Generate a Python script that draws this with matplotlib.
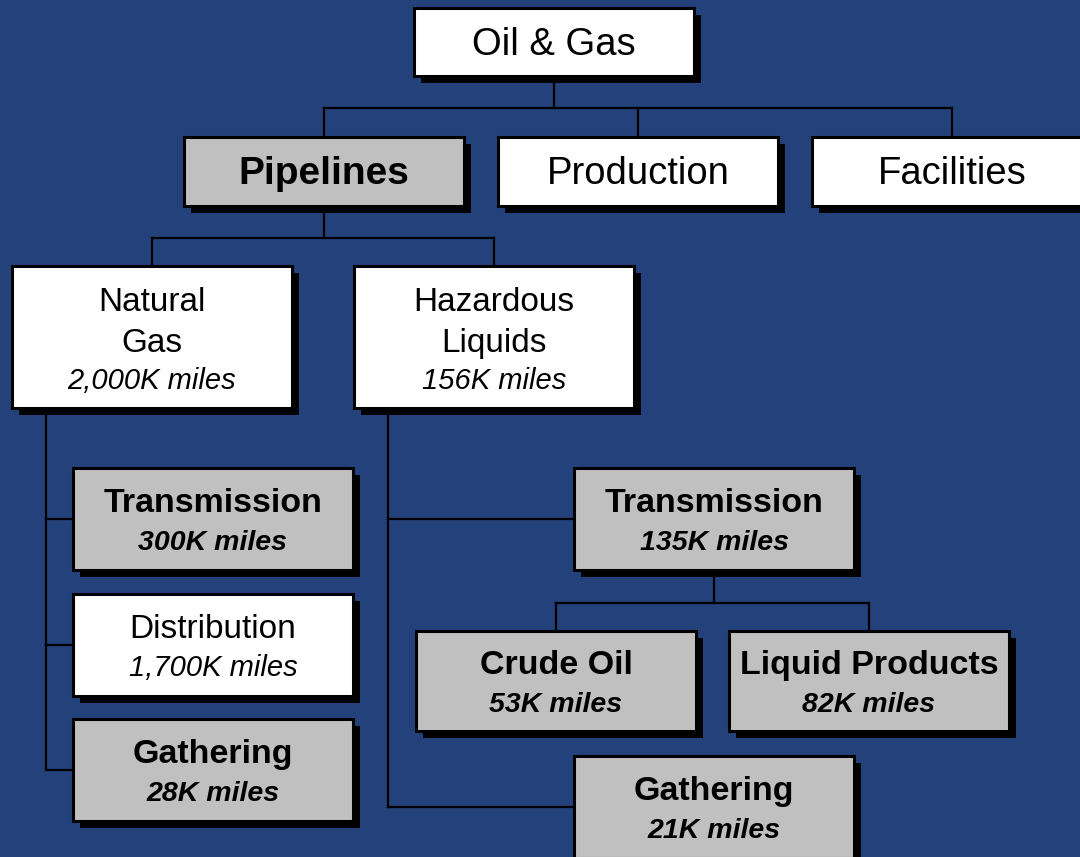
"Oil & Gas pipeline hierarchy chart"

import matplotlib
matplotlib.use("Agg")
import matplotlib.pyplot as plt
from matplotlib.patches import Rectangle

plt.rcParams["font.family"] = ["Liberation Sans", "DejaVu Sans"]

# Data
node_ids   = ["oil", "pipelines", "production", "facilities",
              "natgas", "hazliq",
              "ng_trans", "ng_dist", "ng_gath",
              "hl_trans", "crude", "liqprod", "hl_gath"]
node_names = ["Oil & Gas", "Pipelines", "Production", "Facilities",
              "Natural\nGas", "Hazardous\nLiquids",
              "Transmission", "Distribution", "Gathering",
              "Transmission", "Crude Oil", "Liquid Products", "Gathering"]
miles_k    = [None, None, None, None,
              2000, 156,
              300, 1700, 28,
              135, 53, 82, 21]
highlight  = [False, True, False, False,
              False, False,
              True, False, True,
              True, True, True, True]

# Layout (pixels, origin top-left)
W, H = 1080, 857
BG      = "#23417b"
GREY    = "#c0c0c0"
SHADOW  = 7

boxes = {
    "oil":        (414,   8, 280,  68),
    "pipelines":  (184, 137, 280,  69),
    "production": (498, 137, 280,  69),
    "facilities": (812, 137, 280,  69),
    "natgas":     ( 12, 266, 280, 142),
    "hazliq":     (354, 266, 280, 142),
    "ng_trans":   ( 73, 468, 280, 102),
    "ng_dist":    ( 73, 594, 280, 102),
    "ng_gath":    ( 73, 719, 280, 102),
    "hl_trans":   (574, 468, 280, 102),
    "crude":      (416, 631, 280, 100),
    "liqprod":    (729, 631, 280, 100),
    "hl_gath":    (574, 756, 280, 102),
}

fig = plt.figure(figsize=(W / 100, H / 100), dpi=100)
fig.patch.set_facecolor(BG)
ax = fig.add_axes([0, 0, 1, 1])
ax.set_xlim(0, W); ax.set_ylim(H, 0)
ax.axis("off")


def cx(n):
    x, y, w, h = boxes[n]
    return x + w / 2


def cy(n):
    x, y, w, h = boxes[n]
    return y + h / 2


def top(n):
    return boxes[n][1]


def bottom(n):
    return boxes[n][1] + boxes[n][3]


def line(x0, y0, x1, y1):
    ax.plot([x0, x1], [y0, y1], color="black", lw=1.6,
            solid_capstyle="projecting", zorder=1)


def tree(parent, children, bus_y):
    "parent above, children hanging from a horizontal bus"
    line(cx(parent), bottom(parent), cx(parent), bus_y)
    xs = [cx(c) for c in children]
    line(min(xs), bus_y, max(xs), bus_y)
    for c in children:
        line(cx(c), bus_y, cx(c), top(c))


def side(parent, children, spine_x):
    "vertical spine from parent, tied to left edge of each child"
    ys = [cy(c) for c in children]
    line(spine_x, bottom(parent), spine_x, max(ys))
    for c in children:
        line(spine_x, cy(c), boxes[c][0], cy(c))


# Connectors
tree("oil", ["pipelines", "production", "facilities"], 108)
tree("pipelines", ["natgas", "hazliq"], 238)
side("natgas", ["ng_trans", "ng_dist", "ng_gath"], 46)
side("hazliq", ["hl_trans", "hl_gath"], 388)
tree("hl_trans", ["crude", "liqprod"], 603)

# Boxes
for nid, name, miles, hl in zip(node_ids, node_names, miles_k, highlight):
    x, y, w, h = boxes[nid]
    ax.add_patch(Rectangle((x + SHADOW, y + SHADOW), w, h,
                           facecolor="black", edgecolor="none", zorder=2))
    ax.add_patch(Rectangle((x, y), w, h, facecolor=GREY if hl else "white",
                           edgecolor="black", lw=2.2, zorder=3))
    weight = "bold" if hl else "normal"
    c = cy(nid)
    lines = name.split("\n")
    if miles is None:
        ax.text(cx(nid), c + 12.5, name, ha="center", va="baseline",
                fontsize=28 if hl else 27.5, fontweight=weight, zorder=4)
        continue
    if len(lines) == 2:
        base = [c - 26, c + 15]
        mbase = c + 51.5
        fs = 24
    else:
        base = [c - 7]
        mbase = c + 31
        fs = 24.5 if hl else 24
    for b, t in zip(base, lines):
        ax.text(cx(nid), b, t, ha="center", va="baseline",
                fontsize=fs, fontweight=weight, zorder=4)
    ax.text(cx(nid), mbase, f"{miles:,}K miles", ha="center", va="baseline",
            fontsize=20.5 if hl else 21, fontweight=weight,
            fontstyle="italic", zorder=4)

fig.savefig("out.png", dpi=100, facecolor=BG)
